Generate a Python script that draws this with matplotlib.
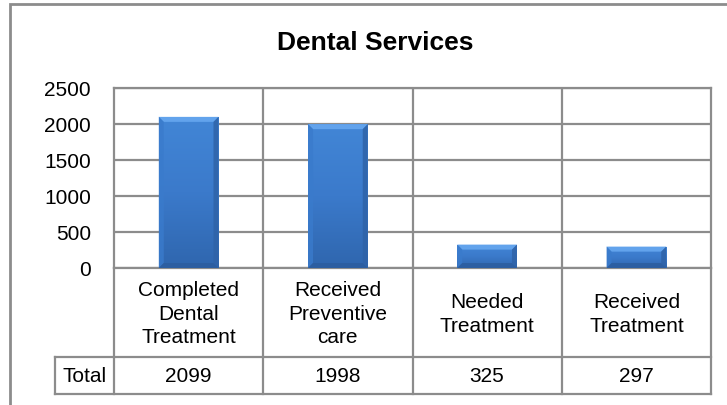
import numpy as np
import matplotlib
matplotlib.use("Agg")
import matplotlib.pyplot as plt
from matplotlib.patches import Polygon, Rectangle
from matplotlib.transforms import blended_transform_factory
from matplotlib.colors import LinearSegmentedColormap

plt.rcParams['font.family'] = ['Liberation Sans', 'DejaVu Sans']

title = "Dental Services"
categories = ["Completed\nDental\nTreatment", "Received\nPreventive\ncare",
              "Needed\nTreatment", "Received\nTreatment"]
values = [2099, 1998, 325, 297]
row_label = "Total"
yticks = [0, 500, 1000, 1500, 2000, 2500]

W, H = 727, 406
fig = plt.figure(figsize=(W / 100, H / 100), dpi=100)
fig.patch.set_facecolor('white')

def fx(px):
    return px / W

def fy(py):
    return (H - py) / H

ax_left, ax_right, ax_top, ax_bot = 114, 711, 89, 269
ax = fig.add_axes([fx(ax_left), fy(ax_bot), fx(ax_right - ax_left), (ax_bot - ax_top) / H])

grid_c = '#8c8c8c'
fs = 15
x = np.arange(len(categories))
ax.set_xlim(-0.5, len(categories) - 0.5)
ax.set_ylim(yticks[0], yticks[-1])

for yv in yticks:
    ax.axhline(yv, color=grid_c, lw=1.6, zorder=1)
for xv in np.arange(0.5, len(categories) - 1, 1.0):
    ax.axvline(xv, color=grid_c, lw=1.6, zorder=1)
for s in ax.spines.values():
    s.set_color(grid_c)
    s.set_linewidth(1.6)

ax.set_yticks(yticks)
ax.set_yticklabels([str(v) for v in yticks], fontsize=fs)
ax.tick_params(axis='y', length=0, pad=16.5)
ax.set_xticks([])

# bars
bw = 0.40
bars = ax.bar(x, values, width=bw, color='#3a7acb', zorder=3, linewidth=0)
cmap = LinearSegmentedColormap.from_list('b', ['#2f66ae', '#3b7acb', '#4286d6'])
grad = np.linspace(0, 1, 256).reshape(-1, 1)
px_per_x = (ax_right - ax_left) / len(categories)
px_per_y = (ax_bot - ax_top) / (yticks[-1] - yticks[0])
bev_x = 5 / px_per_x
bev_y = 5 / px_per_y
for b in bars:
    x0, w, h = b.get_x(), b.get_width(), b.get_height()
    im = ax.imshow(grad, extent=[x0, x0 + w, 0, h], origin='lower', cmap=cmap,
                   aspect='auto', zorder=3.5, interpolation='bicubic')
    im.set_clip_path(b)
    x1 = x0 + w
    ax.add_patch(Polygon([[x0, h], [x1, h], [x1 - bev_x, h - bev_y], [x0 + bev_x, h - bev_y]],
                         closed=True, fc='#62a3ec', ec='none', zorder=4))
    ax.add_patch(Polygon([[x0, 0], [x0, h], [x0 + bev_x, h - bev_y], [x0 + bev_x, bev_y]],
                         closed=True, fc='#3a7bcc', ec='none', alpha=0.8, zorder=4))
    ax.add_patch(Polygon([[x1, 0], [x1, h], [x1 - bev_x, h - bev_y], [x1 - bev_x, bev_y]],
                         closed=True, fc='#2f63a8', ec='none', alpha=0.85, zorder=4))
    ax.add_patch(Polygon([[x0, 0], [x1, 0], [x1 - bev_x, bev_y], [x0 + bev_x, bev_y]],
                         closed=True, fc='#2c5d9f', ec='none', alpha=0.85, zorder=4))
ax.set_xlim(-0.5, len(categories) - 0.5)
ax.set_ylim(yticks[0], yticks[-1])

# data table below
tr = blended_transform_factory(ax.transData, fig.transFigure)
row1_bot, row2_bot = 358, 395
label_left = -0.5 - (ax_left - 55) / px_per_x
xe = len(categories) - 0.5

def vline(xv, y0, y1):
    fig.add_artist(plt.Line2D([xv, xv], [fy(y0), fy(y1)], transform=tr, color=grid_c, lw=1.6))

def hline(xa, xb, yv):
    fig.add_artist(plt.Line2D([xa, xb], [fy(yv), fy(yv)], transform=tr, color=grid_c, lw=1.6))

for xv in np.arange(-0.5, len(categories), 1.0):
    vline(xv, ax_bot, row2_bot)
vline(label_left, row1_bot, row2_bot)
hline(label_left, xe, row1_bot)
hline(label_left, xe, row2_bot)

for xi, cat in zip(x, categories):
    fig.text(xi, fy((ax_bot + row1_bot) / 2 + 1), cat, transform=tr, ha='center', va='center',
             fontsize=fs, linespacing=1.3, color='black')
for xi, v in zip(x, values):
    fig.text(xi, fy((row1_bot + row2_bot) / 2), str(v), transform=tr, ha='center',
             va='center', fontsize=fs, color='black')
fig.text((label_left - 0.5) / 2, fy((row1_bot + row2_bot) / 2), row_label, transform=tr,
         ha='center', va='center', fontsize=fs, color='black')

# title
fig.text(fx(375), fy(43), title, ha='center', va='center', fontsize=19, fontweight='bold')

# outer chart frame (cropped)
fig.add_artist(Rectangle((fx(10), fy(420)), 1.2, fy(5) - fy(420), transform=fig.transFigure,
                         fill=False, ec=grid_c, lw=2, clip_on=False))

fig.savefig('out.png', dpi=100)
